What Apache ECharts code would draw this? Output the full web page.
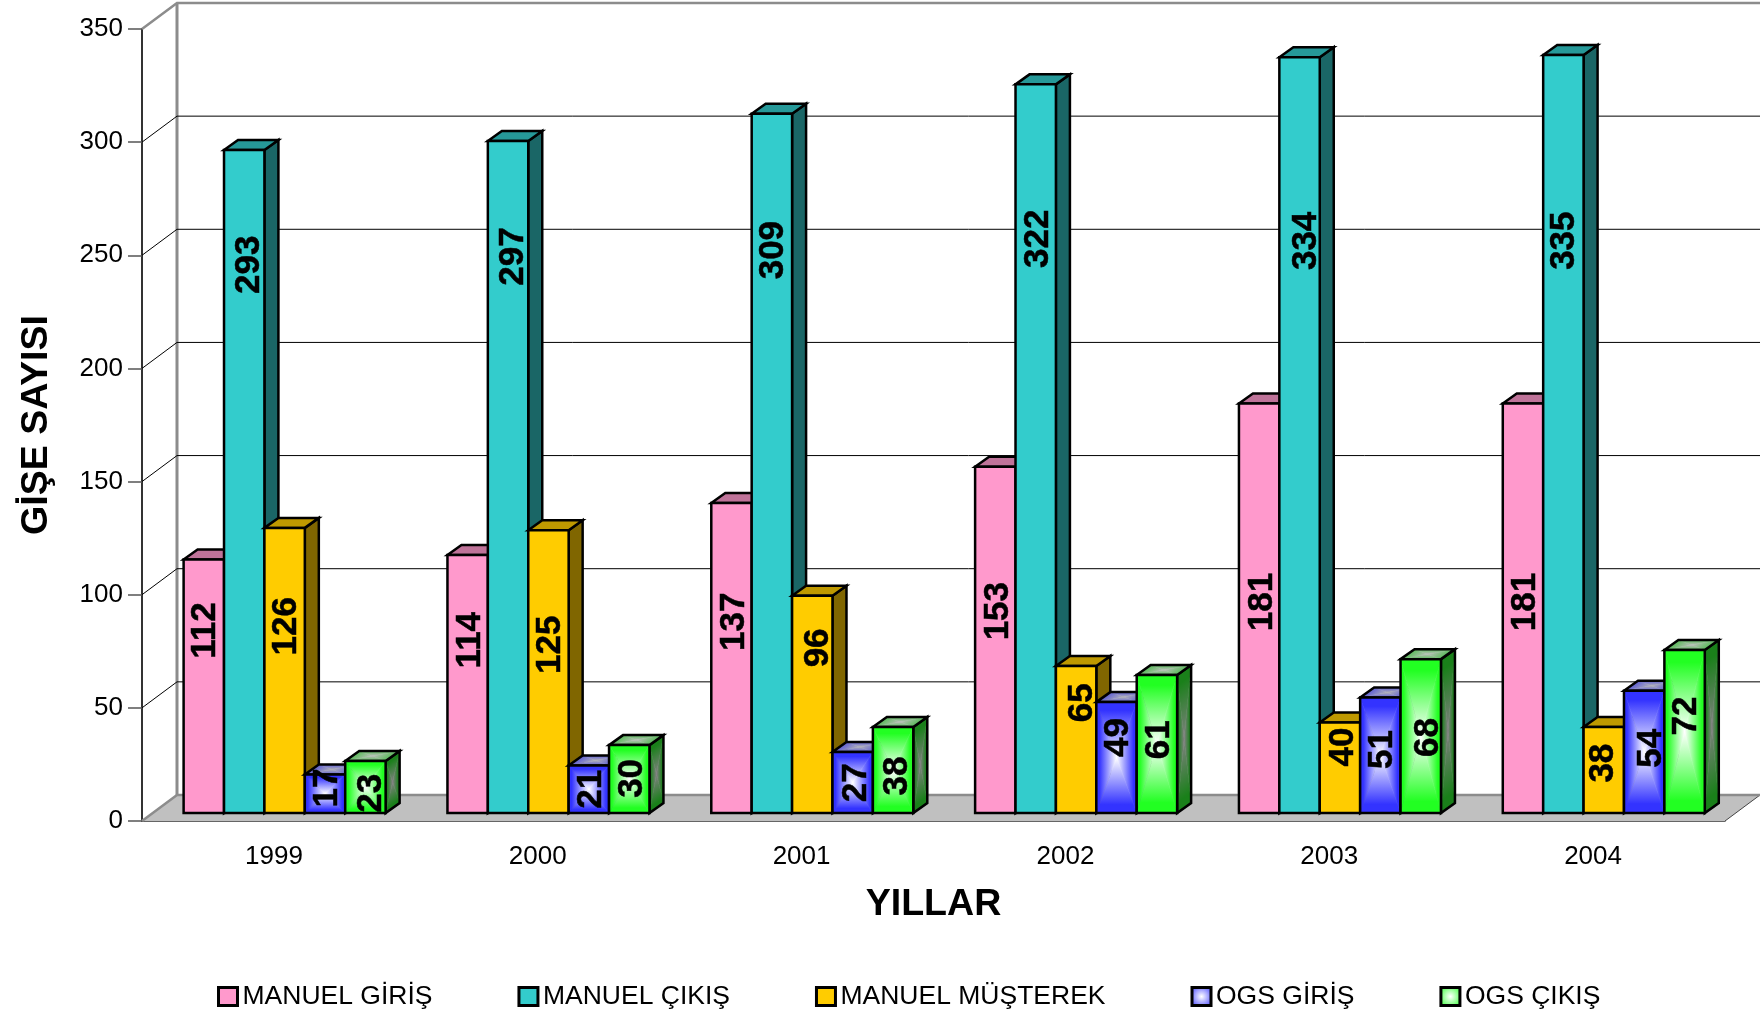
<!DOCTYPE html>
<html>
<head>
<meta charset="utf-8">
<title>GİŞE SAYISI</title>
<script src="https://cdn.jsdelivr.net/npm/echarts@6/dist/echarts.min.js"></script>
<style>
html, body { margin: 0; padding: 0; background: #fff; }
#main { width: 1760px; height: 1016px; }
</style>
</head>
<body>
<div id="main"></div>
<script>
var years = ['1999', '2000', '2001', '2002', '2003', '2004'];
var seriesNames = ['MANUEL GİRİŞ', 'MANUEL ÇIKIŞ', 'MANUEL MÜŞTEREK', 'OGS GİRİŞ', 'OGS ÇIKIŞ'];
var manuelGiris = [112, 114, 137, 153, 181, 181];
var manuelCikis = [293, 297, 309, 322, 334, 335];
var manuelMusterek = [126, 125, 96, 65, 40, 38];
var ogsGiris = [17, 21, 27, 49, 51, 54];
var ogsCikis = [23, 30, 38, 61, 68, 72];
var yTicks = [0, 50, 100, 150, 200, 250, 300, 350];

// the labels were placed by hand in the original: share of the bar height
var labelShare = [
    [0.72, 0.67, 0.617, 0.583, 0.515, 0.515],
    [0.827, 0.828, 0.805, 0.788, 0.757, 0.755],
    [0.655, 0.595, 0.76, 0.75, 0.73, 0.58],
    [0.65, 0.50, 0.495, 0.68, 0.55, 0.53],
    [0.38, 0.51, 0.43, 0.53, 0.49, 0.595]
];
// and sideways, in px from the middle of the bar
var labelNudge = [
    [2, 3, 3, 3, 3, 2.5],
    [5.5, 5.5, 1, 3, 6.5, 1],
    [2, 2, 6.5, 6.5, 3, 0],
    [2, 2, 4, 2, 2, 7.5],
    [5.5, 3, 4, 2, 7.5, 2]
];

var FONT = '"Liberation Sans", Arial, sans-serif';
var WALL_DX = 35, WALL_DY = 26;   // depth of the chart box
var BAR_DX = 10.7, BAR_DY = 8;    // where the bars stand on the floor
var TOP_DX = 14, TOP_DY = 10;     // depth of a bar
var BAR_W = 40.4;
var EDGE = 2.5;

// flat faces
var flat = [
    { front: '#ff99cc', top: '#bf7399', side: '#804d66' },
    { front: '#33cccc', top: '#269999', side: '#1a6666' },
    { front: '#ffcc00', top: '#bf9900', side: '#806600' }
];
// faces with a rectangular gradient
var glow = [
    { front: ['#3333ff', '#ffffff'], top: ['#6a6ad0', '#b0b0b8'], side: ['#1a1a80', '#808080'] },
    { front: ['#22ff22', '#ffffff'], top: ['#66bb66', '#b8c0b8'], side: ['#1a801a', '#808080'] }
];

function pathFace(pts, edge, mid) {
    var n = pts.length, cx = 0, cy = 0, out = [];
    pts.forEach(function (p) { cx += p[0] / n; cy += p[1] / n; });
    for (var i = 0; i < n; i++) {
        var a = pts[i], b = pts[(i + 1) % n];
        var ex = b[0] - a[0], ey = b[1] - a[1];
        var t = ((cx - a[0]) * ex + (cy - a[1]) * ey) / (ex * ex + ey * ey);
        var fill = {
            type: 'linear', global: true,
            x: a[0] + t * ex, y: a[1] + t * ey, x2: cx, y2: cy,
            colorStops: [
                { offset: 0, color: edge },
                { offset: 0.15, color: edge },
                { offset: 1, color: mid }
            ]
        };
        out.push({
            type: 'polygon',
            silent: true,
            shape: { points: [a, b, [cx, cy]] },
            // same fill on the stroke closes the seams between the triangles
            style: { fill: fill, stroke: fill, lineWidth: 0.6 }
        });
    }
    return out;
}

function outline(pts) {
    return {
        type: 'polygon', silent: true, shape: { points: pts },
        style: { fill: 'none', stroke: '#000', lineWidth: EDGE, lineJoin: 'miter' }
    };
}

function barRenderer(seriesIndex) {
    return function (params, api) {
        var cat = api.value(0), val = api.value(1);
        var band = api.size([1, 0])[0];
        var center = api.coord([cat, val]);
        var base = api.coord([cat, 0]);
        var x0 = center[0] - band / 2 + (band - BAR_W * 5) / 2 + BAR_DX + seriesIndex * BAR_W;
        var x1 = x0 + BAR_W;
        var yTop = center[1] - BAR_DY, yBot = base[1] - BAR_DY;

        var front = [[x0, yTop], [x1, yTop], [x1, yBot], [x0, yBot]];
        var top = [[x0, yTop], [x0 + TOP_DX, yTop - TOP_DY], [x1 + TOP_DX, yTop - TOP_DY], [x1, yTop]];
        var side = [[x1, yTop], [x1 + TOP_DX, yTop - TOP_DY], [x1 + TOP_DX, yBot - TOP_DY], [x1, yBot]];

        var kids = [];
        if (seriesIndex < 3) {
            var c = flat[seriesIndex];
            kids.push({ type: 'polygon', shape: { points: side }, style: { fill: c.side, stroke: '#000', lineWidth: EDGE } });
            kids.push({ type: 'polygon', shape: { points: top }, style: { fill: c.top, stroke: '#000', lineWidth: EDGE } });
            kids.push({ type: 'polygon', shape: { points: front }, style: { fill: c.front, stroke: '#000', lineWidth: EDGE } });
        } else {
            var g = glow[seriesIndex - 3];
            kids = kids.concat(pathFace(side, g.side[0], g.side[1]));
            kids.push(outline(side));
            kids = kids.concat(pathFace(top, g.top[0], g.top[1]));
            kids.push(outline(top));
            kids = kids.concat(pathFace(front, g.front[0], g.front[1]));
            kids.push(outline(front));
        }
        kids.push({
            type: 'text',
            silent: true,
            x: (x0 + x1) / 2 + labelNudge[seriesIndex][params.dataIndex],
            y: yBot - (yBot - yTop) * labelShare[seriesIndex][params.dataIndex],
            rotation: Math.PI / 2,
            style: {
                text: String(val),
                font: 'bold 35px ' + FONT,
                fill: '#000',
                stroke: '#000',
                lineWidth: 0.5,
                align: 'center',
                verticalAlign: 'middle'
            }
        });
        return { type: 'group', children: kids };
    };
}

function wallRenderer(params, api) {
    var sys = params.coordSys;
    var v = api.value(0);
    var y = api.coord([0, v])[1];
    var left = sys.x, right = sys.x + sys.width;
    var gray = (v === 0 || v === 350);
    var stroke = gray ? '#8c8c8c' : '#000';
    var width = gray ? 2.5 : 1;
    var kids = [];
    if (v === 0) {
        kids.push({
            type: 'polygon',
            shape: { points: [[left, y], [left + WALL_DX, y - WALL_DY], [right + WALL_DX, y - WALL_DY], [right, y]] },
            style: { fill: '#c0c0c0', stroke: null }
        });
        kids.push({
            type: 'line',
            shape: { x1: right, y1: y, x2: right + WALL_DX, y2: y - WALL_DY },
            style: { stroke: '#444', lineWidth: 1 }
        });
        // back corner of the box
        kids.push({
            type: 'line',
            shape: { x1: left + WALL_DX, y1: y - WALL_DY, x2: left + WALL_DX, y2: sys.y - WALL_DY },
            style: { stroke: '#8c8c8c', lineWidth: 3 }
        });
    }
    kids.push({
        type: 'polyline',
        shape: { points: [[left, y], [left + WALL_DX, y - WALL_DY], [right + WALL_DX, y - WALL_DY]] },
        style: { fill: 'none', stroke: stroke, lineWidth: width }
    });
    return { type: 'group', children: kids };
}

var seriesData = [manuelGiris, manuelCikis, manuelMusterek, ogsGiris, ogsCikis];

var series = [{
    type: 'custom',
    name: 'wall',
    renderItem: wallRenderer,
    clip: false,
    silent: true,
    z: 1,
    encode: { x: 1, y: 0 },
    data: yTicks.map(function (v) { return [v, 0]; })
}];

seriesNames.forEach(function (name, i) {
    series.push({
        type: 'custom',
        name: name,
        renderItem: barRenderer(i),
        clip: false,
        z: 2,
        encode: { x: 0, y: 1 },
        data: seriesData[i].map(function (v, k) { return [k, v]; })
    });
});

function legendGlow(color) {
    return {
        type: 'radial', x: 0.5, y: 0.5, r: 0.7,
        colorStops: [{ offset: 0, color: '#ffffff' }, { offset: 1, color: color }]
    };
}
var legendFill = ['#ff99cc', '#33cccc', '#ffcc00', legendGlow('#3333ff'), legendGlow('#22ff22')];

var chart = echarts.init(document.getElementById('main'));
chart.setOption({
    animation: false,
    backgroundColor: '#fff',
    textStyle: { fontFamily: FONT },
    grid: { left: 142, right: 35, top: 29, bottom: 195, outerBoundsMode: 'none' },
    xAxis: {
        type: 'category',
        data: years,
        name: 'YILLAR',
        nameLocation: 'middle',
        nameGap: 65,
        nameTextStyle: { fontFamily: FONT, fontSize: 37.6, fontWeight: 'bold', color: '#000' },
        axisLine: { onZero: false, lineStyle: { color: '#333', width: 1.5 } },
        axisTick: { length: 14, lineStyle: { color: '#333', width: 1.5 } },
        axisLabel: { margin: 23, fontFamily: FONT, fontSize: 26, color: '#000' }
    },
    yAxis: {
        type: 'value',
        min: 0,
        max: 350,
        interval: 50,
        name: 'GİŞE SAYISI',
        nameLocation: 'middle',
        nameRotate: 90,
        nameGap: 86,
        nameTextStyle: { fontFamily: FONT, fontSize: 37.6, fontWeight: 'bold', color: '#000' },
        splitLine: { show: false },
        axisLine: { show: true, lineStyle: { color: '#333', width: 2 } },
        axisTick: { show: true, length: 14, lineStyle: { color: '#555', width: 1.5 } },
        axisLabel: { margin: 19, fontFamily: FONT, fontSize: 26, color: '#000' }
    },
    legend: {
        left: 212,
        top: 978,
        orient: 'horizontal',
        width: 1500,
        itemWidth: 19,
        itemHeight: 18,
        itemGap: 85,
        selectedMode: false,
        textStyle: { fontFamily: FONT, fontSize: 26.5, color: '#000' },
        data: seriesNames.map(function (name, i) {
            return {
                name: name,
                icon: 'rect',
                itemStyle: { color: legendFill[i], borderColor: '#000', borderWidth: 3 }
            };
        })
    },
    series: series
});
</script>
</body>
</html>
